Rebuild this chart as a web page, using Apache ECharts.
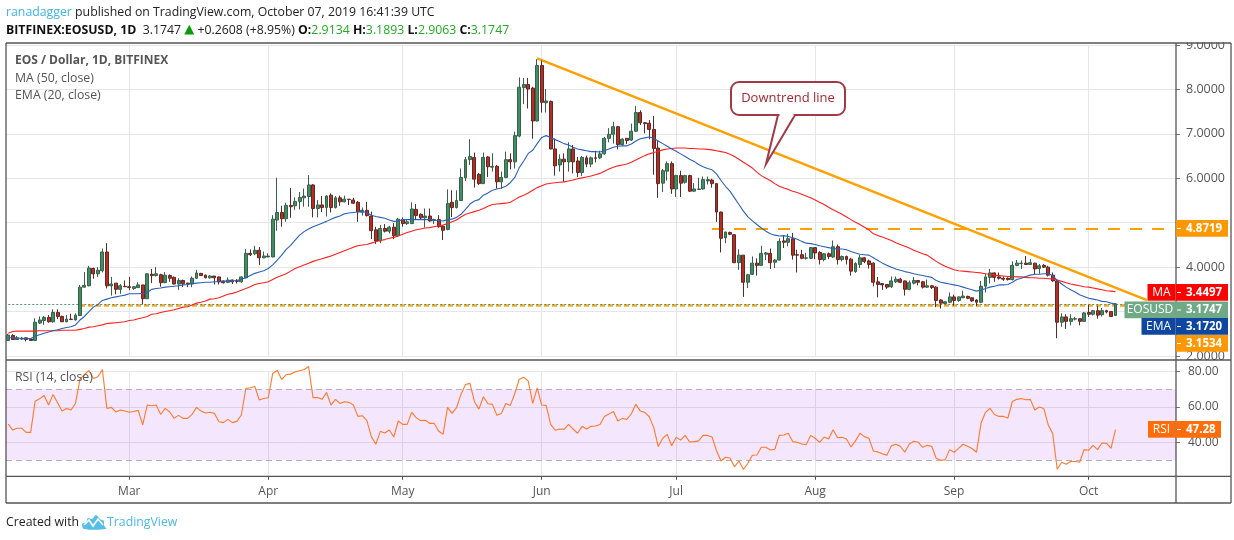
<!DOCTYPE html>
<html><head><meta charset="utf-8">
<style>html,body{margin:0;padding:0;background:#fff}#c{width:1234px;height:540px}</style>
<script src="https://cdn.jsdelivr.net/npm/echarts@6/dist/echarts.min.js"></script>
</head><body><div id="c"></div>
<script>
const firstDay = '2019-02-02';
const dayCount = 261;
const monthLabels = {'2019-03-01':'Mar','2019-04-01':'Apr','2019-05-01':'May','2019-06-01':'Jun','2019-07-01':'Jul','2019-08-01':'Aug','2019-09-01':'Sep','2019-10-01':'Oct'};
const priceTicks = [2,3,4,5,6,7,8,9];
const hiddenPriceLabels = [3,5];
const rsiTicks = [40,60,80];
// open, close, low, high
const ohlc = [
[2.35,2.47,2.34,2.50],[2.46,2.37,2.36,2.49],[2.37,2.41,2.36,2.45],[2.38,2.40,2.36,2.43],[2.41,2.37,2.33,2.42],[2.38,2.35,2.34,2.40],
[2.35,2.76,2.34,2.85],[2.74,2.81,2.72,2.89],[2.80,2.87,2.70,2.90],[2.87,2.77,2.75,2.92],[2.77,2.98,2.75,3.05],[2.98,2.89,2.83,3.05],
[2.89,2.77,2.77,2.91],[2.77,2.83,2.76,2.92],[2.83,2.82,2.82,2.95],[2.81,2.92,2.80,2.96],[2.91,3.55,2.90,3.60],[3.55,3.59,3.54,3.89],
[3.58,3.98,3.57,4.03],[3.97,3.85,3.74,3.99],[3.85,3.93,3.78,4.00],[3.92,4.34,3.88,4.42],[4.34,3.58,3.52,4.54],[3.58,3.62,3.36,3.78],
[3.64,3.50,3.39,3.64],[3.50,3.58,3.40,3.62],[3.57,3.56,3.55,3.70],[3.56,3.54,3.48,3.78],[3.52,3.56,3.49,3.57],[3.54,3.60,3.53,3.66],
[3.60,3.29,3.16,3.60],[3.29,3.85,3.28,3.86],[3.84,3.81,3.64,3.96],[3.81,3.85,3.79,4.00],[3.83,3.65,3.56,3.85],[3.65,3.82,3.64,3.89],
[3.81,3.75,3.67,3.84],[3.77,3.62,3.61,3.79],[3.62,3.70,3.49,3.75],[3.70,3.63,3.55,3.72],[3.64,3.62,3.55,3.65],[3.62,3.75,3.55,3.79],
[3.75,3.87,3.73,3.94],[3.86,3.81,3.80,3.87],[3.82,3.76,3.75,3.83],[3.76,3.80,3.74,3.82],[3.80,3.76,3.61,3.80],[3.78,3.67,3.61,3.79],
[3.69,3.65,3.63,3.70],[3.66,3.71,3.64,3.77],[3.71,3.67,3.62,3.72],[3.70,3.68,3.63,3.73],[3.67,3.78,3.65,3.79],[3.76,4.31,3.75,4.41],
[4.31,4.28,4.25,4.40],[4.30,4.38,4.27,4.48],[4.38,4.21,4.05,4.45],[4.21,4.25,4.20,4.35],[4.23,4.25,4.22,4.31],[4.23,5.08,4.22,5.17],
[5.06,5.23,4.82,6.01],[5.23,5.09,4.91,5.38],[5.09,5.39,5.02,5.45],[5.39,5.36,5.11,5.78],[5.38,5.48,5.29,5.57],[5.48,5.57,5.30,5.69],
[5.56,5.60,5.36,5.77],[5.59,5.85,5.36,6.07],[5.85,5.32,5.12,5.87],[5.32,5.40,5.12,5.51],[5.40,5.34,5.24,5.60],[5.34,5.60,5.14,5.62],
[5.62,5.34,5.23,5.66],[5.34,5.56,5.32,5.60],[5.56,5.47,5.38,5.61],[5.47,5.53,5.46,5.61],[5.53,5.52,5.40,5.53],[5.51,5.44,5.42,5.56],
[5.46,5.25,5.02,5.49],[5.24,5.28,5.16,5.34],[5.28,5.16,5.14,5.47],[5.15,4.82,4.63,5.25],[4.84,4.59,4.52,4.91],[4.59,4.87,4.54,4.95],
[4.87,4.81,4.78,4.97],[4.81,4.90,4.76,4.93],[4.90,4.71,4.63,4.99],[4.71,5.08,4.69,5.11],[5.07,4.98,4.91,5.12],[4.98,5.02,4.95,5.06],
[4.98,5.31,4.97,5.46],[5.30,5.16,5.06,5.42],[5.19,5.11,5.08,5.21],[5.11,5.15,4.89,5.32],[5.15,5.04,5.02,5.32],[5.05,5.07,4.97,5.09],
[5.07,4.91,4.89,5.17],[4.92,4.83,4.61,4.95],[4.85,5.43,4.83,5.75],[5.46,5.34,5.13,5.73],[5.34,5.50,5.32,5.73],[5.50,6.02,5.49,6.22],
[6.01,6.42,5.94,6.48],[6.42,6.49,6.30,6.88],[6.47,5.98,5.79,6.58],[6.09,5.88,5.85,6.12],[5.88,6.47,5.87,6.58],[6.48,6.26,6.03,6.50],
[6.25,6.27,6.15,6.56],[6.27,5.92,5.77,6.30],[5.92,6.02,5.76,6.15],[6.02,6.42,6.00,6.60],[6.42,6.37,6.20,6.56],[6.37,6.96,6.22,7.05],
[6.95,8.05,6.92,8.27],[8.04,8.11,7.67,8.26],[8.11,8.01,7.57,8.26],[8.03,7.29,6.89,8.06],[7.29,8.54,7.28,8.68],[8.54,7.71,7.48,8.65],
[7.70,7.74,7.48,8.01],[7.73,6.66,6.65,7.75],[6.66,6.28,6.06,6.90],[6.30,6.43,6.15,6.54],[6.43,6.37,5.92,6.56],[6.37,6.66,6.15,6.81],
[6.66,6.37,6.11,6.75],[6.39,6.13,6.03,6.48],[6.13,6.47,6.05,6.50],[6.46,6.32,6.25,6.51],[6.32,6.46,6.25,6.49],[6.46,6.45,6.36,6.62],
[6.46,6.55,6.43,6.62],[6.55,6.90,6.53,6.93],[6.90,6.99,6.81,7.13],[6.99,7.16,6.78,7.27],[7.16,6.76,6.65,7.18],[6.76,6.88,6.73,6.90],
[6.90,6.85,6.77,6.90],[6.86,7.06,6.84,7.23],[7.06,7.48,7.04,7.63],[7.48,7.25,7.20,7.53],[7.25,7.23,7.01,7.26],[7.24,7.10,6.88,7.31],
[7.10,6.67,6.08,7.40],[6.68,5.88,5.56,6.86],[5.89,6.17,5.69,6.21],[6.16,6.33,5.95,6.38],[6.33,5.76,5.65,6.38],[5.76,6.06,5.58,6.08],
[6.06,5.89,5.58,6.17],[5.91,6.06,5.88,6.08],[6.06,5.71,5.69,6.08],[5.71,5.76,5.69,5.89],[5.75,5.76,5.74,6.01],[5.76,5.97,5.74,6.04],
[5.94,5.97,5.86,6.04],[5.96,5.88,5.79,5.99],[5.88,5.24,5.02,5.89],[5.24,4.65,4.33,5.25],[4.66,4.79,4.54,4.80],[4.78,4.74,4.72,4.80],
[4.73,4.10,4.09,4.74],[4.10,4.27,3.94,4.40],[4.27,3.66,3.33,4.27],[3.66,3.83,3.53,3.85],[3.84,4.09,3.82,4.24],[4.09,4.04,3.81,4.20],
[4.04,4.31,4.03,4.48],[4.29,4.32,4.16,4.34],[4.31,4.10,3.96,4.42],[4.11,4.16,3.98,4.18],[4.16,4.58,4.15,4.65],[4.59,4.56,4.43,4.71],
[4.56,4.64,4.47,4.75],[4.64,4.27,4.17,4.77],[4.28,4.27,3.88,4.39],[4.28,4.20,4.18,4.39],[4.20,4.21,4.17,4.32],[4.20,4.44,4.18,4.45],
[4.44,4.32,4.18,4.45],[4.33,4.17,4.06,4.36],[4.17,4.30,4.13,4.32],[4.30,4.24,4.18,4.33],[4.23,4.46,4.21,4.60],[4.46,4.17,4.06,4.51],
[4.17,4.24,4.13,4.26],[4.24,4.17,4.06,4.26],[4.18,3.91,3.81,4.21],[3.90,4.08,3.87,4.11],[4.06,4.21,3.98,4.27],[4.21,4.13,4.09,4.23],
[4.14,4.06,3.97,4.17],[4.09,3.66,3.57,4.11],[3.67,3.61,3.32,3.78],[3.63,3.60,3.49,3.64],[3.61,3.55,3.51,3.62],[3.56,3.69,3.53,3.79],
[3.67,3.73,3.64,3.79],[3.73,3.66,3.64,3.76],[3.69,3.50,3.36,3.70],[3.50,3.65,3.48,3.70],[3.64,3.70,3.61,3.78],[3.70,3.66,3.59,3.70],
[3.67,3.55,3.52,3.69],[3.55,3.58,3.53,3.72],[3.58,3.54,3.51,3.60],[3.55,3.25,3.10,3.57],[3.26,3.19,3.07,3.28],[3.18,3.22,3.17,3.23],
[3.21,3.33,3.19,3.43],[3.33,3.25,3.13,3.38],[3.25,3.33,3.22,3.34],[3.31,3.35,3.31,3.47],[3.34,3.30,3.28,3.36],[3.31,3.24,3.22,3.32],
[3.26,3.21,3.12,3.28],[3.21,3.57,3.19,3.69],[3.57,3.78,3.43,3.85],[3.77,3.87,3.63,3.96],[3.87,3.77,3.67,3.88],[3.78,3.75,3.72,3.88],
[3.75,3.73,3.69,3.79],[3.75,3.72,3.70,3.77],[3.72,4.04,3.70,4.13],[4.04,4.09,4.02,4.16],[4.08,4.09,3.96,4.15],[4.09,4.06,4.05,4.25],
[4.06,4.10,4.05,4.18],[4.09,3.96,3.83,4.10],[3.97,4.03,3.85,4.07],[4.04,4.00,3.98,4.07],[4.00,3.82,3.79,4.03],[3.82,3.69,3.67,3.88],
[3.69,2.76,2.40,3.72],[2.76,2.88,2.66,2.96],[2.88,2.78,2.61,2.94],[2.78,2.84,2.69,2.94],[2.83,2.84,2.80,2.88],[2.84,2.78,2.69,2.85],
[2.78,2.97,2.77,2.99],[2.98,2.94,2.88,3.15],[2.94,3.02,2.91,3.04],[3.02,2.92,2.84,3.13],[2.93,3.02,2.89,3.08],[3.02,2.99,2.96,3.04],
[3.00,2.89,2.88,3.01],[2.9134,3.1747,2.9063,3.1893]
];
const ma50 = [2.51,2.55,2.56,2.56,2.56,2.56,2.56,2.57,2.57,2.57,2.57,2.57,2.58,2.58,2.58,2.58,
2.60,2.62,2.65,2.66,2.68,2.70,2.73,2.74,2.75,2.76,2.77,2.80,2.81,2.84,2.86,2.89,2.94,2.95,2.98,3.00,3.02,3.04,3.07,3.10,3.11,3.15,3.19,3.21,3.24,
3.28,3.29,3.31,3.35,3.39,3.41,3.44,3.48,3.52,3.56,3.61,3.63,3.65,3.67,3.72,3.77,3.81,3.85,3.91,3.97,4.01,4.05,4.09,4.13,4.16,4.19,4.22,4.25,4.29,4.33,4.37,4.41,4.45,4.48,4.50,4.51,4.54,4.57,4.60,4.62,4.65,4.67,4.70,
4.74,4.78,4.81,4.84,4.86,4.88,4.89,4.91,4.93,4.95,4.98,5.02,5.06,5.13,5.19,5.22,5.25,5.28,5.32,5.37,5.41,5.42,5.43,5.44,5.46,5.52,5.58,5.62,5.67,5.73,5.79,5.83,5.87,5.89,5.90,5.91,5.92,5.94,5.96,5.99,6.01,6.03,
6.05,6.08,6.11,6.16,6.21,6.25,6.28,6.30,6.32,6.36,6.41,6.46,6.51,6.55,6.58,6.61,6.64,6.66,6.67,6.68,6.68,6.68,6.67,6.67,6.66,6.66,6.65,6.64,6.62,6.60,6.58,6.54,6.49,6.43,6.36,6.30,6.23,6.14,6.06,6.00,5.95,5.88,5.82,
5.78,5.75,5.71,5.68,5.64,5.60,5.56,5.51,5.46,5.41,5.35,5.29,5.24,5.19,5.13,5.07,5.01,4.96,4.90,4.84,4.75,4.71,4.68,4.64,4.60,4.55,4.51,4.47,4.43,4.38,4.34,4.30,4.27,4.20,4.13,4.07,4.02,3.98,
3.94,3.92,3.91,3.90,3.89,3.88,3.87,3.85,3.84,3.82,3.81,3.80,3.79,3.79,3.78,3.78,3.77,3.76,3.76,3.75,3.75,3.74,3.73,3.71,3.68,3.65,3.62,3.60,3.58,3.56,3.55,3.53,3.51,3.49,3.47,3.46,3.4497];
const ema20 = [2.41,2.41,2.40,2.40,2.39,2.39,
2.45,2.48,2.51,2.54,2.57,2.59,2.62,2.64,2.66,2.70,2.81,2.89,3.00,3.10,3.16,3.25,3.28,3.31,3.33,3.35,3.37,3.40,3.40,3.40,3.41,3.43,3.50,3.52,3.53,3.55,3.56,3.57,3.58,3.60,3.61,3.63,3.64,3.65,3.66,
3.66,3.67,3.67,3.68,3.69,3.69,3.70,3.73,3.76,3.81,3.86,3.89,3.92,
3.97,4.05,4.16,4.27,4.40,4.49,4.61,4.72,4.80,4.86,4.91,4.95,4.99,5.03,5.08,5.12,5.15,5.20,5.22,5.23,5.24,5.25,5.23,5.17,5.14,5.12,5.10,5.06,5.03,5.04,
5.07,5.07,5.07,5.07,5.07,5.07,5.07,5.06,5.05,5.04,5.07,5.08,5.12,5.19,5.30,5.42,5.49,5.52,5.62,5.67,5.73,5.76,5.78,5.82,5.90,6.02,6.24,6.39,6.56,6.63,6.78,6.92,6.96,6.92,6.87,6.83,6.78,6.75,6.70,6.66,6.64,6.62,
6.60,6.60,6.59,6.62,6.66,6.70,6.72,6.73,6.73,6.77,6.84,6.89,6.91,6.93,6.90,6.84,6.78,6.72,6.66,6.61,6.55,6.49,6.43,6.38,6.31,6.26,6.22,6.19,6.10,5.95,5.82,5.71,5.56,5.41,5.26,5.13,5.04,4.96,4.88,4.81,4.75,4.72,4.70,
4.71,4.69,4.66,4.63,4.58,4.54,4.53,4.51,4.48,4.46,4.44,4.42,4.41,4.41,4.39,4.35,4.32,4.29,4.28,4.27,4.21,4.15,4.09,4.04,4.00,3.96,3.93,3.90,3.88,3.85,3.83,3.81,3.79,3.77,3.70,3.66,3.64,3.62,
3.60,3.58,3.55,3.52,3.49,3.46,3.48,3.52,3.55,3.57,3.60,3.60,3.61,3.66,3.72,3.75,3.79,3.82,3.84,3.84,3.85,3.85,3.81,3.70,3.62,3.55,3.49,3.44,3.38,3.34,3.30,3.28,3.26,3.23,3.22,3.19,3.172];
const rsi14 = [50.4,47.0,48.0,48.0,45.7,45.7,63.3,64.6,66.5,61.1,67.1,62.4,57.7,59.2,58.3,62.0,75.7,78.3,80.6,76.1,77.0,81.1,59.2,59.8,57.2,58.3,57.7,57.0,57.5,58.1,
49.9,61.1,60.7,61.1,55.8,59.2,57.3,53.6,55.3,53.6,53.6,55.8,59.8,57.7,56.6,57.0,56.4,51.7,51.2,53.0,51.2,51.9,55.5,70.4,70.8,71.6,63.9,64.8,65.2,78.9,
80.7,75.5,78.3,78.5,79.8,80.4,81.1,82.8,65.2,65.4,64.3,68.2,61.1,64.3,62.0,63.0,62.6,61.1,54.7,55.1,52.3,43.3,39.0,46.3,45.4,47.0,43.1,52.1,50.2,50.2,
57.0,54.0,52.3,52.5,50.8,50.8,46.5,44.6,59.8,56.4,59.6,67.1,72.7,73.3,63.0,58.8,65.8,61.8,61.5,55.3,56.4,62.0,60.9,67.6,75.7,76.8,74.6,62.0,70.8,61.1,
60.9,50.2,46.9,47.6,47.4,50.2,47.6,45.2,49.1,47.6,49.1,49.3,50.2,54.7,56.0,57.5,52.1,53.6,53.0,56.2,61.5,57.7,57.0,54.5,48.4,37.7,42.4,44.6,38.2,42.9,
41.4,44.0,40.3,40.5,40.9,44.0,44.0,43.1,35.4,29.6,31.7,31.3,26.3,29.6,24.9,28.3,32.8,33.0,37.3,37.3,35.8,36.2,44.0,44.2,45.2,40.5,40.1,39.2,38.8,44.0,
42.4,40.1,43.1,42.0,47.2,42.7,42.9,42.0,37.5,40.9,45.2,43.3,42.4,35.2,34.7,33.6,32.8,38.1,39.0,37.9,34.5,39.2,40.7,40.1,37.3,38.4,37.9,31.1,30.0,30.2,
36.0,34.5,36.7,39.0,37.9,36.6,34.5,50.8,57.0,59.2,55.8,54.7,54.7,53.8,63.1,64.3,64.8,64.1,64.3,58.3,60.0,59.2,49.9,45.0,24.9,28.9,27.8,29.3,29.3,28.9,
36.0,35.6,38.4,36.0,39.7,39.6,36.7,47.28];
const resistance = 4.8719, support = 3.1534, lastPrice = 3.1747;
const trendStart = {day:118, price:8.70}, trendEnd = {day:254, price:3.26};
const sideLabels = [
 {name:'MA', value:'3.4497', y:284, color:'#ff0000'},
 {name:'EOSUSD', value:'3.1747', y:301.5, color:'#6fa986'},
 {name:'EMA', value:'3.1720', y:318, color:'#0d47a1'},
 {name:'', value:'3.1534', y:335, color:'#ff9800'},
 {name:'', value:'4.8719', y:220, color:'#ff9800'}
];

const dates = [];
for (let i=0;i<dayCount;i++){ const d=new Date(Date.UTC(2019,1,2+i)); dates.push(d.toISOString().slice(0,10)); }
const isMonth = (i,v)=> v in monthLabels;
const FONT = '"Open Sans", sans-serif';
const gridCol = '#e6e6e6', txt='#555';
const chart = echarts.init(document.getElementById('c'));

const gr = [];
gr.push({type:'rect',z:90,shape:{x:1177,y:33,width:52,height:9.5},style:{fill:'#fff'}});
gr.push({type:'rect',z:90,shape:{x:1177,y:360,width:52,height:4.5},style:{fill:'#fff'}});
const frame = '#555';
const ln=(x1,y1,x2,y2)=>({type:'line',z:95,shape:{x1,y1,x2,y2},style:{stroke:frame,lineWidth:1.3}});
gr.push(ln(6,43,1231,43),ln(6,503,1231,503),ln(6,43,6,503),ln(1231,43,1231,503),ln(1176,43,1176,503),ln(6,360,1231,360),ln(6,476.3,1231,476.3));
sideLabels.forEach(l=>{
  if(l.name){
    const w = l.name==='EOSUSD'?51:(l.name==='MA'?28:34);
    gr.push({type:'rect',z:100,shape:{x:1175.5-w,y:l.y,width:w,height:16.7},style:{fill:l.color}});
    gr.push({type:'text',z:101,x:1175.5-w/2,y:l.y+8.5,style:{text:l.name,fill:'#fff',font:'12px '+FONT,align:'center',verticalAlign:'middle'}});
  }
  gr.push({type:'rect',z:100,shape:{x:1176,y:l.y,width:52,height:16.7},style:{fill:l.color}});
  gr.push({type:'line',z:101,shape:{x1:1177,y1:l.y+8.5,x2:1181,y2:l.y+8.5},style:{stroke:'#fff',lineWidth:1}});
  gr.push({type:'text',z:101,x:1186,y:l.y+8.5,style:{text:l.value,fill:'#fff',font:'bold 11.5px '+FONT,align:'left',verticalAlign:'middle'}});
});
gr.push({type:'rect',z:100,shape:{x:1148,y:421,width:27.5,height:16.7},style:{fill:'#ff6d0a'}});
gr.push({type:'text',z:101,x:1161.5,y:429.5,style:{text:'RSI',fill:'#fff',font:'12px '+FONT,align:'center',verticalAlign:'middle'}});
gr.push({type:'rect',z:100,shape:{x:1176,y:421,width:45,height:16.7},style:{fill:'#ff6d0a'}});
gr.push({type:'line',z:101,shape:{x1:1177,y1:429.5,x2:1181,y2:429.5},style:{stroke:'#fff',lineWidth:1}});
gr.push({type:'text',z:101,x:1186,y:429.5,style:{text:'47.28',fill:'#fff',font:'bold 11.5px '+FONT,align:'left',verticalAlign:'middle'}});
// callout
const calloutStroke = {fill:'#fff',stroke:'#a03a44',lineWidth:2};
gr.push({type:'rect',z:80,shape:{x:731,y:82,width:114,height:33,r:8},style:calloutStroke});
gr.push({type:'polygon',z:81,shape:{points:[[795,115],[766,164],[778,115]]},style:calloutStroke});
gr.push({type:'line',z:82,shape:{x1:779.5,y1:115,x2:793.5,y2:115},style:{stroke:'#fff',lineWidth:3}});
gr.push({type:'text',z:83,x:788,y:98.5,style:{text:'Downtrend line',fill:'#a32a33',font:'13px '+FONT,align:'center',verticalAlign:'middle'}});
// header
gr.push({type:'text',z:100,x:6,y:12.5,style:{text:'{a|ranadagger}{b| published on TradingView.com, October 07, 2019 16:41:39 UTC}',verticalAlign:'middle',rich:{a:{fill:'#3db5e8',font:'12.3px '+FONT},b:{fill:'#222',font:'12.3px '+FONT}}}});
gr.push({type:'text',z:100,x:6,y:30,style:{text:'{k|BITFINEX:EOSUSD, 1D}{n|  3.1747 }{u|▲}{n| +0.2608 (+8.95%) }{k|O:}{g|2.9134 }{k|H:}{g|3.1893 }{k|L:}{g|2.9063 }{k|C:}{g|3.1747}',verticalAlign:'middle',rich:{k:{fill:'#111',font:'bold 12.3px '+FONT},n:{fill:'#222',font:'12.3px '+FONT},u:{fill:'#0a9a0a',font:'13px "DejaVu Sans"'},g:{fill:'#22aa22',font:'12.3px '+FONT}}}});
// pane legends
gr.push({type:'text',z:70,x:15,y:60.5,style:{text:'EOS / Dollar, 1D, BITFINEX',fill:txt,font:'bold 12px '+FONT,verticalAlign:'middle'}});
gr.push({type:'text',z:70,x:15,y:78,style:{text:'MA (50, close)',fill:txt,font:'12.3px '+FONT,verticalAlign:'middle'}});
gr.push({type:'text',z:70,x:15,y:95.5,style:{text:'EMA (20, close)',fill:txt,font:'12.3px '+FONT,verticalAlign:'middle'}});
gr.push({type:'text',z:70,x:15,y:377,style:{text:'RSI (14, close)',fill:txt,font:'12.3px '+FONT,verticalAlign:'middle'}});
// footer
gr.push({type:'text',z:70,x:6,y:522,style:{text:'Created with',fill:'#222',font:'12.3px '+FONT,verticalAlign:'middle'}});
gr.push({type:'polygon',z:70,shape:{smooth:0.3,points:[[84,529],[82,524],[86,522],[88,518],[92,519],[96,515],[100,519],[104,521],[104,525],[106,529]]},style:{fill:'#55bfe8'}});
gr.push({type:'polyline',z:71,shape:{points:[[84,525],[89,520],[93,526],[98,519],[103,525]]},style:{stroke:'#fff',lineWidth:1.6,fill:null}});
gr.push({type:'text',z:70,x:107,y:522,style:{text:'TradingView',fill:'#4bb8e6',font:'12.3px '+FONT,verticalAlign:'middle'}});

const catAxis = (grid,extra)=>Object.assign({type:'category',gridIndex:grid,data:dates,boundaryGap:true,
  axisLine:{show:false},axisTick:{show:false},axisLabel:{show:false},
  splitLine:{show:true,alignWithLabel:true,interval:isMonth,lineStyle:{color:gridCol,width:1}}},extra||{});

chart.setOption({
  animation:false,
  backgroundColor:'#fff',
  textStyle:{fontFamily:FONT},
  grid:[
    {left:6,width:1170,top:45,height:311},
    {left:6,width:1170,top:371.5,height:106.5},
    {left:6,width:1170,top:476.3,height:0.5}
  ],
  xAxis:[
    catAxis(0),catAxis(1),
    catAxis(2,{position:'bottom',splitLine:{show:false},
      axisTick:{show:true,alignWithLabel:true,interval:isMonth,length:3,lineStyle:{color:'#555'}},
      axisLabel:{show:true,interval:isMonth,formatter:v=>monthLabels[v]||'',color:txt,fontSize:12,margin:9,fontFamily:FONT}})
  ],
  yAxis:[
    {type:'value',gridIndex:0,position:'right',min:priceTicks[0],max:priceTicks[priceTicks.length-1],interval:1,
      axisLine:{show:false},axisTick:{show:true,length:4,lineStyle:{color:'#777'}},
      axisLabel:{formatter:v=>hiddenPriceLabels.includes(v)?'':v.toFixed(4),color:txt,fontSize:12.5,margin:10,padding:[2,0,0,0],fontFamily:FONT},
      splitLine:{show:true,lineStyle:{color:gridCol,width:1}}},
    {type:'value',gridIndex:1,position:'right',min:20,max:rsiTicks[rsiTicks.length-1],interval:20,
      axisLine:{show:false},axisTick:{show:true,length:4,lineStyle:{color:'#777'}},
      axisLabel:{showMinLabel:false,formatter:v=>v.toFixed(2),color:txt,fontSize:12,margin:12,padding:[2,0,0,0],fontFamily:FONT},
      splitLine:{show:true,showMinLine:false,lineStyle:{color:gridCol,width:1}}},
    {type:'value',gridIndex:2,show:false}
  ],
  series:[
    {type:'candlestick',name:'EOSUSD',xAxisIndex:0,yAxisIndex:0,data:ohlc,barWidth:3.4,z:3,
      itemStyle:{color:'#3e8f63',color0:'#b92c22',borderColor:'#3a5f4a',borderColor0:'#5c2a26',borderWidth:1},
      markLine:{silent:true,symbol:'none',label:{show:false},animation:false,z:2,data:[
        [{coord:[dates[trendStart.day],trendStart.price],lineStyle:{color:'#ffa000',width:2.4,type:'solid'}},{coord:[dates[trendEnd.day],trendEnd.price]}],
        [{coord:[dates[157],resistance],lineStyle:{color:'#ffa000',width:2,type:[12,10]}},{coord:[dates[260],resistance]}],
        [{coord:[dates[16],support],lineStyle:{color:'#ffa726',width:2.6,type:[5,3]}},{coord:[dates[260],support]}],
        [{coord:[dates[0],lastPrice],lineStyle:{color:'#4d9a6c',width:1,type:[2,2]}},{coord:[dates[260],lastPrice]}]
      ]}},
    {type:'line',name:'MA',xAxisIndex:0,yAxisIndex:0,data:ma50,showSymbol:false,z:4,lineStyle:{color:'#ff2020',width:1.1}},
    {type:'line',name:'EMA',xAxisIndex:0,yAxisIndex:0,data:ema20,showSymbol:false,z:5,lineStyle:{color:'#2a62b8',width:1.1}},
    {type:'line',name:'RSI',xAxisIndex:1,yAxisIndex:1,data:rsi14,showSymbol:false,clip:false,z:5,lineStyle:{color:'#ff7a2a',width:1.1},
      markArea:{silent:true,itemStyle:{color:'rgba(145,5,235,0.1)'},data:[[{yAxis:70},{yAxis:30}]]},
      markLine:{silent:true,symbol:'none',label:{show:false},lineStyle:{color:'#b5aebb',width:1,type:[6,4]},data:[{yAxis:70},{yAxis:30}]}}
  ],
  graphic:gr
});
</script></body></html>
